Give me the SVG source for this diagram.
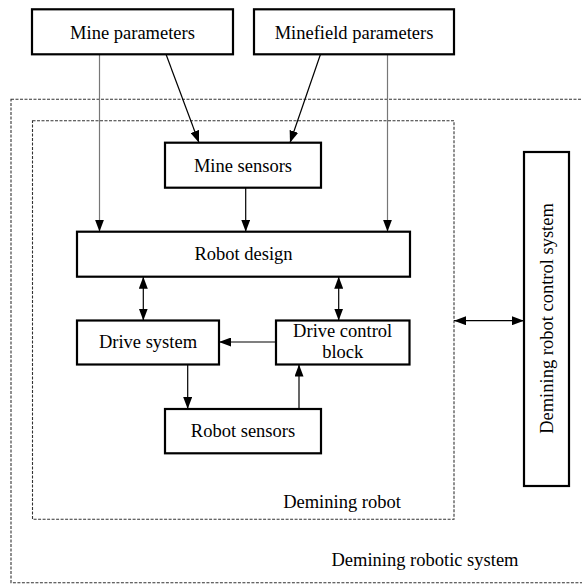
<svg xmlns="http://www.w3.org/2000/svg" width="582" height="585" viewBox="0 0 582 585">
<style>
.box{fill:#fff;stroke:#000;stroke-width:2.2}
.dash{fill:none;stroke:#333;stroke-width:1.1;stroke-dasharray:3,1.5}
.t{font-family:"Liberation Serif","Times New Roman",serif;font-size:18.5px;fill:#000;text-anchor:middle}
.c{fill:none;stroke:#000;stroke-width:1.2}
.g{fill:none;stroke:#777;stroke-width:1.2}
</style>
<defs>
<marker id="ah" markerUnits="userSpaceOnUse" markerWidth="12" markerHeight="9" refX="12" refY="4.5" orient="auto-start-reverse">
<path d="M0,0 L12,4.5 L0,9 z" fill="#000"/>
</marker>
</defs>
<rect x="0" y="0" width="582" height="585" fill="#fff"/>
<g id="system-boundary">
<rect class="dash" x="11" y="99.3" width="600" height="483.4"/>
<text class="t" x="425" y="565.7">Demining robotic system</text>
</g>
<g id="robot-boundary">
<rect class="dash" x="32.5" y="120.7" width="421.5" height="398.6"/>
<text class="t" x="342" y="508.3">Demining robot</text>
</g>
<g id="connectors">
<line class="g" x1="99.5" y1="54.3" x2="99.5" y2="231.7" marker-end="url(#ah)"/>
<line class="g" x1="387.5" y1="54.3" x2="387.5" y2="231.7" marker-end="url(#ah)"/>
<line class="c" x1="166" y1="54.3" x2="199" y2="142.7" marker-end="url(#ah)"/>
<line class="c" x1="320.5" y1="54.3" x2="290" y2="142.7" marker-end="url(#ah)"/>
<line class="c" x1="245.7" y1="187.7" x2="245.7" y2="231.7" marker-end="url(#ah)"/>
<line class="c" x1="143.3" y1="276.7" x2="143.3" y2="320.5" marker-start="url(#ah)" marker-end="url(#ah)"/>
<line class="c" x1="338.7" y1="276.7" x2="338.7" y2="320.5" marker-start="url(#ah)" marker-end="url(#ah)"/>
<line class="c" x1="276" y1="342" x2="219" y2="342" marker-end="url(#ah)"/>
<line class="c" x1="187.7" y1="364.3" x2="187.7" y2="409" marker-end="url(#ah)"/>
<line class="c" x1="299" y1="409" x2="299" y2="364.5" marker-end="url(#ah)"/>
<line class="c" x1="454" y1="320.7" x2="524" y2="320.7" marker-start="url(#ah)" marker-end="url(#ah)"/>
</g>
<g id="mine-parameters">
<rect class="box" x="32" y="9.3" width="201" height="45"/>
<text class="t" x="132.5" y="39">Mine parameters</text>
</g>
<g id="minefield-parameters">
<rect class="box" x="254" y="9.3" width="200" height="45"/>
<text class="t" x="354" y="39">Minefield parameters</text>
</g>
<g id="mine-sensors">
<rect class="box" x="165" y="142.7" width="156" height="45"/>
<text class="t" x="243" y="171.5">Mine sensors</text>
</g>
<g id="robot-design">
<rect class="box" x="77" y="231.7" width="333" height="45"/>
<text class="t" x="243.5" y="259.5">Robot design</text>
</g>
<g id="drive-system">
<rect class="box" x="77" y="320.5" width="142" height="44"/>
<text class="t" x="148" y="348">Drive system</text>
</g>
<g id="drive-control-block">
<rect class="box" x="276" y="320.5" width="133.5" height="44"/>
<text class="t" x="342.7" y="336.7">Drive control</text>
<text class="t" x="342.7" y="358.3">block</text>
</g>
<g id="robot-sensors">
<rect class="box" x="165" y="409" width="156" height="44.3"/>
<text class="t" x="243" y="437.3">Robot sensors</text>
</g>
<g id="control-system">
<rect class="box" x="524" y="152" width="45" height="334"/>
<text class="t" transform="translate(553,318.5) rotate(-90)">Demining robot control system</text>
</g>
</svg>
